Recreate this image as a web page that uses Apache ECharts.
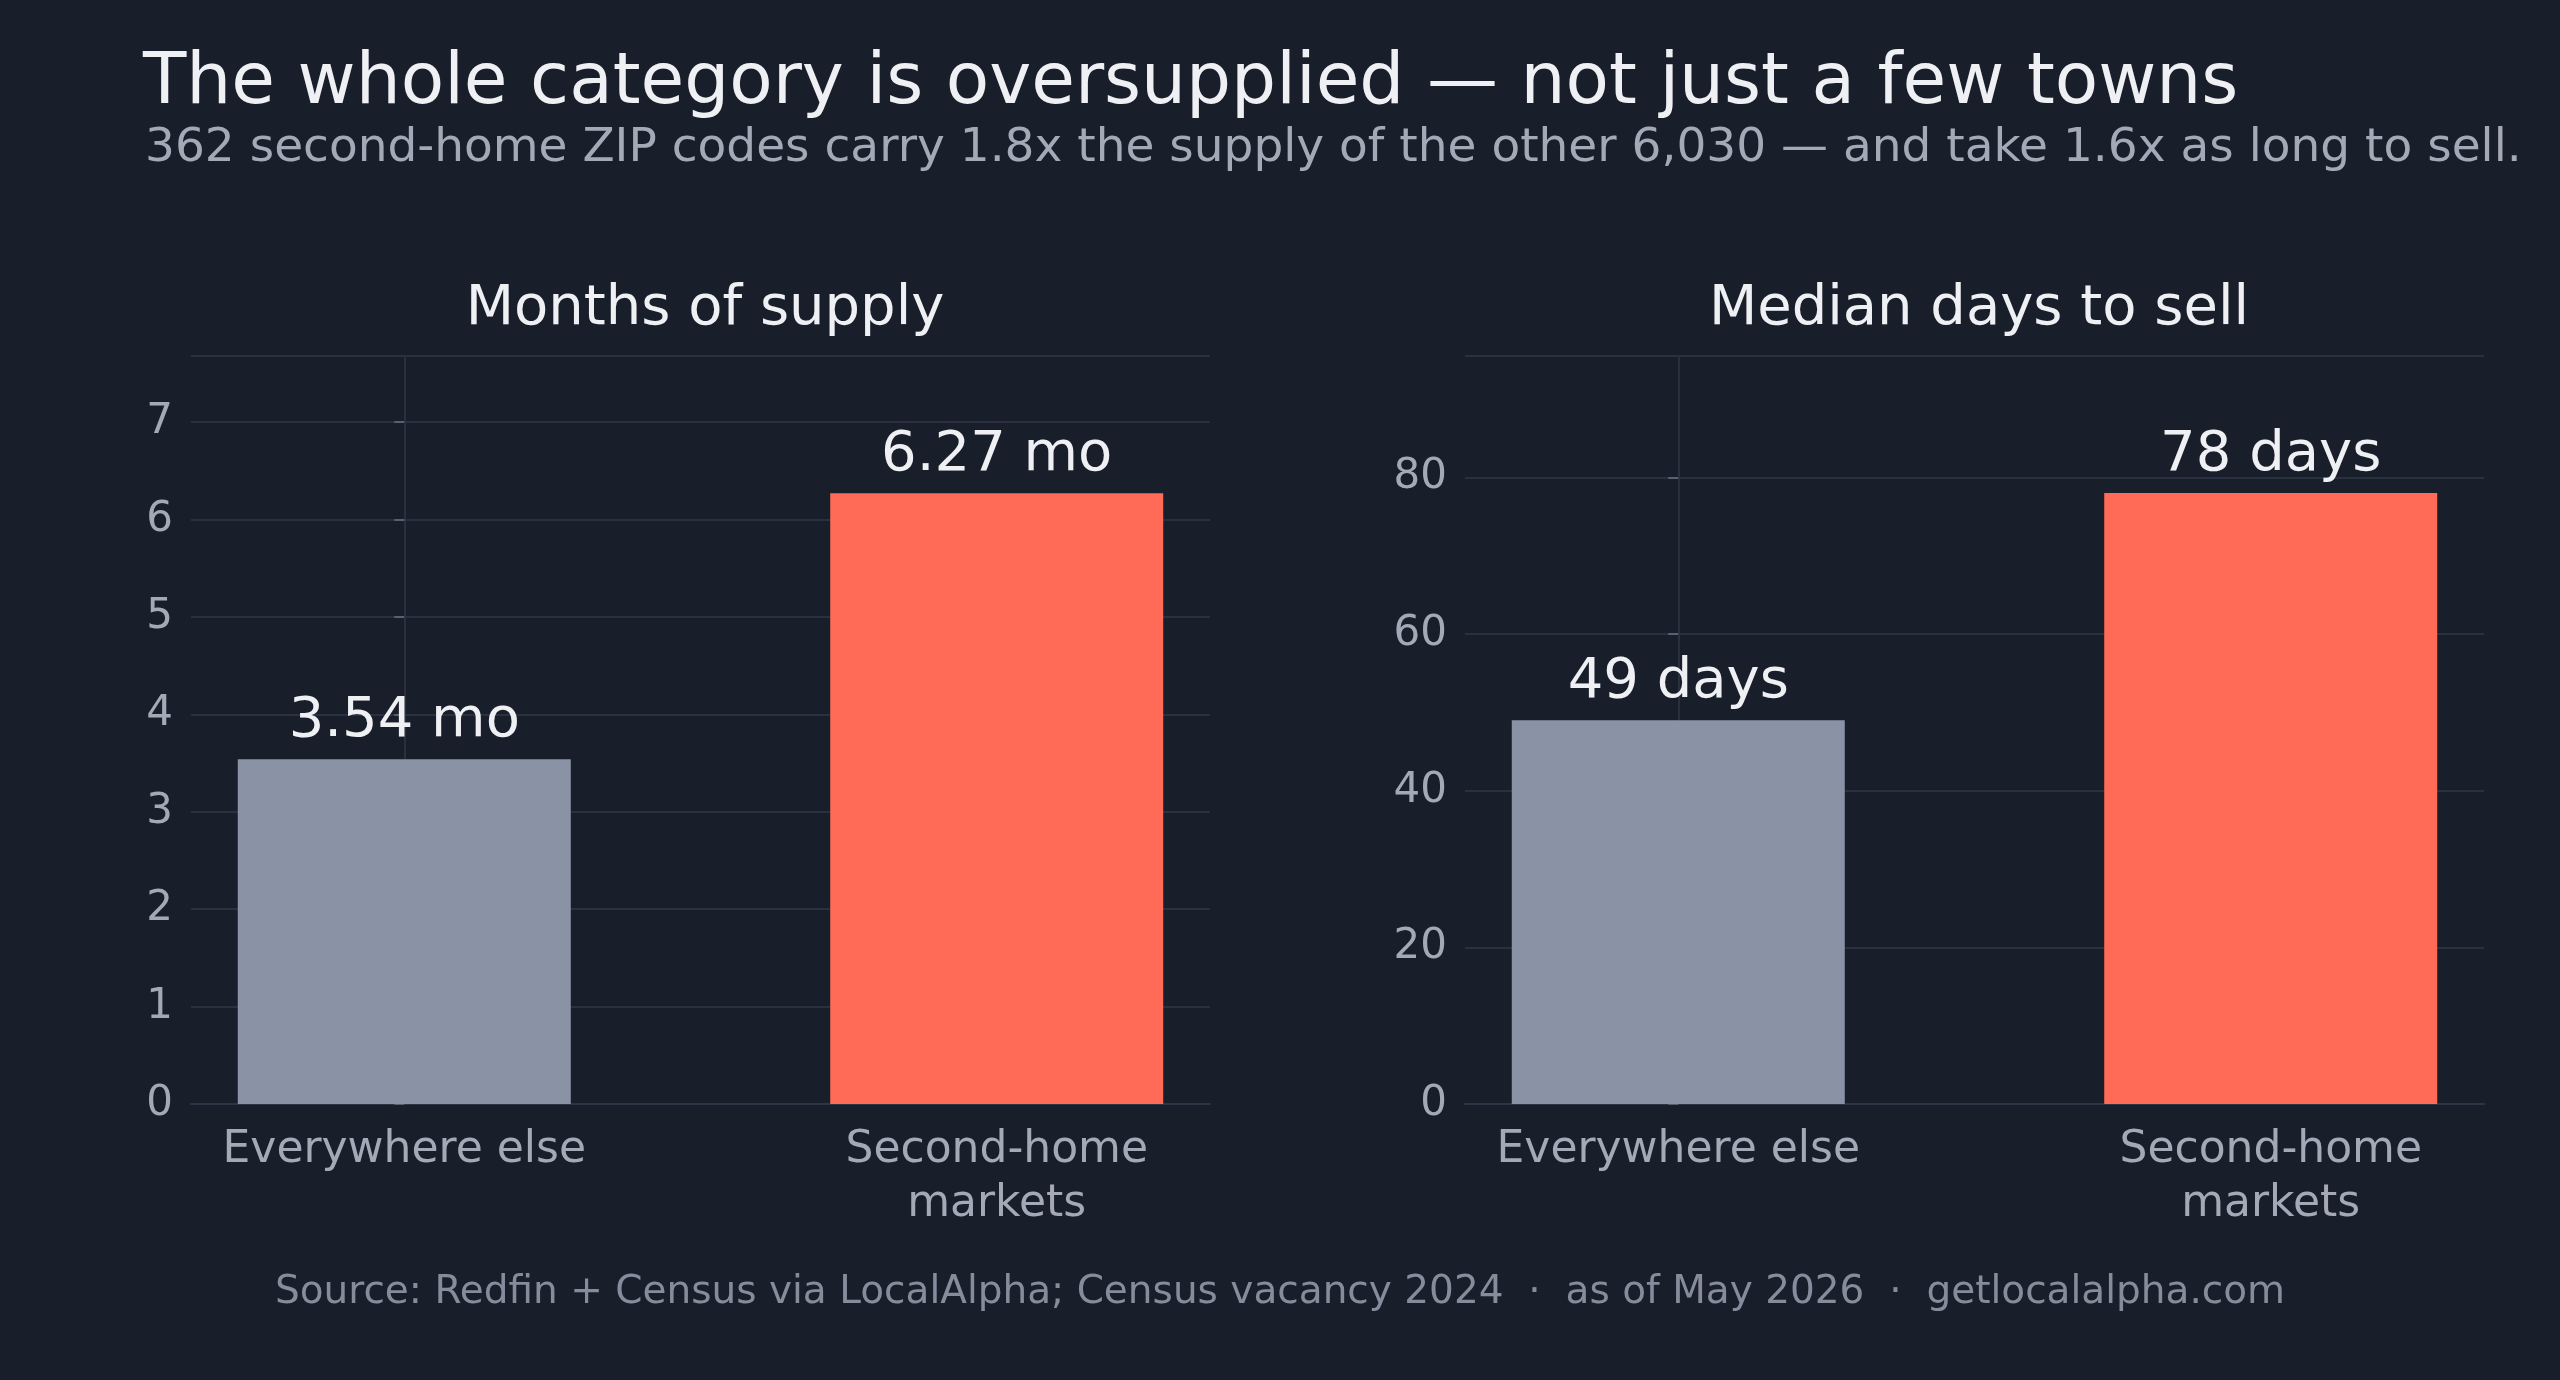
<!DOCTYPE html>
<html><head><meta charset="utf-8">
<script src="https://cdn.jsdelivr.net/npm/echarts@6/dist/echarts.min.js"></script>
<style>html,body{margin:0;padding:0;background:#191e2b}#c{width:2560px;height:1380px}</style>
</head><body><div id="c"></div>
<script>
const categories = ['Everywhere else', 'Second-home\nmarkets'];
const monthsSupply = [3.54, 6.27];
const daysToSell = [49, 78];
const barColors = ['#8a93a6', '#ff6b57'];

const F = 'DejaVu Sans';
const chart = echarts.init(document.getElementById('c'));
function grid(l, r) { return {left: l, width: r - l, top: 356, height: 748}; }
function xAxis(i) {
  return {gridIndex: i, type: 'value', min: -0.36, max: 1.36,
    splitLine: {show: false},
    axisLine: {onZero: false, lineStyle: {color: '#2e3446', width: 2}}, axisTick: {show: false},
    axisLabel: {customValues: [0, 1], formatter: v => categories[Math.round(v)] || '',
      color: '#a3a9b7', fontFamily: F, fontSize: 44, lineHeight: 54, margin: 20}};
}
function yAxis(i, max, interval) {
  return {gridIndex: i, type: 'value', min: 0, max: max, interval: interval,
    axisLine: {show: true, lineStyle: {color: '#2a3040', width: 2}},
    axisTick: {show: true, length: 10, lineStyle: {color: '#5a6070', width: 2}},
    splitLine: {lineStyle: {color: '#2a3040', width: 2}},
    axisLabel: {color: '#a3a9b7', fontFamily: F, fontSize: 42, margin: 18,
      showMaxLabel: false}};
}
function series(i, data, suffix) {
  return {type: 'bar', xAxisIndex: i, yAxisIndex: i, barWidth: 333,
    data: data.map((v, k) => ({value: [k, v], itemStyle: {color: barColors[k]}})),
    label: {show: true, position: 'top', distance: 10, color: '#eef0f4', fontFamily: F, fontSize: 56,
      formatter: p => p.value[1] + suffix}};
}
chart.setOption({
  backgroundColor: '#191e2b',
  title: [
    {text: 'The whole category is oversupplied — not just a few towns', left: 138, top: 44,
      textStyle: {color: '#eef0f4', fontFamily: F, fontSize: 71, fontWeight: 'normal'}},
    {text: '362 second-home ZIP codes carry 1.8x the supply of the other 6,030 — and take 1.6x as long to sell.',
      left: 140, top: 120, textStyle: {color: '#a3a9b7', fontFamily: F, fontSize: 47, fontWeight: 'normal'}},
    {text: 'Months of supply', left: 700, textAlign: 'center', top: 276,
      textStyle: {color: '#eef0f4', fontFamily: F, fontSize: 56, fontWeight: 'normal'}},
    {text: 'Median days to sell', left: 1974, textAlign: 'center', top: 276,
      textStyle: {color: '#eef0f4', fontFamily: F, fontSize: 56, fontWeight: 'normal'}},
    {text: 'Source: Redfin + Census via LocalAlpha; Census vacancy 2024  ·  as of May 2026  ·  getlocalalpha.com',
      left: 'center', top: 1268, textStyle: {color: '#868c9c', fontFamily: F, fontSize: 39, fontWeight: 'normal'}}
  ],
  grid: [grid(191, 1210), grid(1465, 2484)],
  xAxis: [xAxis(0), xAxis(1)],
  yAxis: [yAxis(0, 7.68, 1), yAxis(1, 95.5, 20)],
  series: [series(0, monthsSupply, ' mo'), series(1, daysToSell, ' days')]
});
</script></body></html>
